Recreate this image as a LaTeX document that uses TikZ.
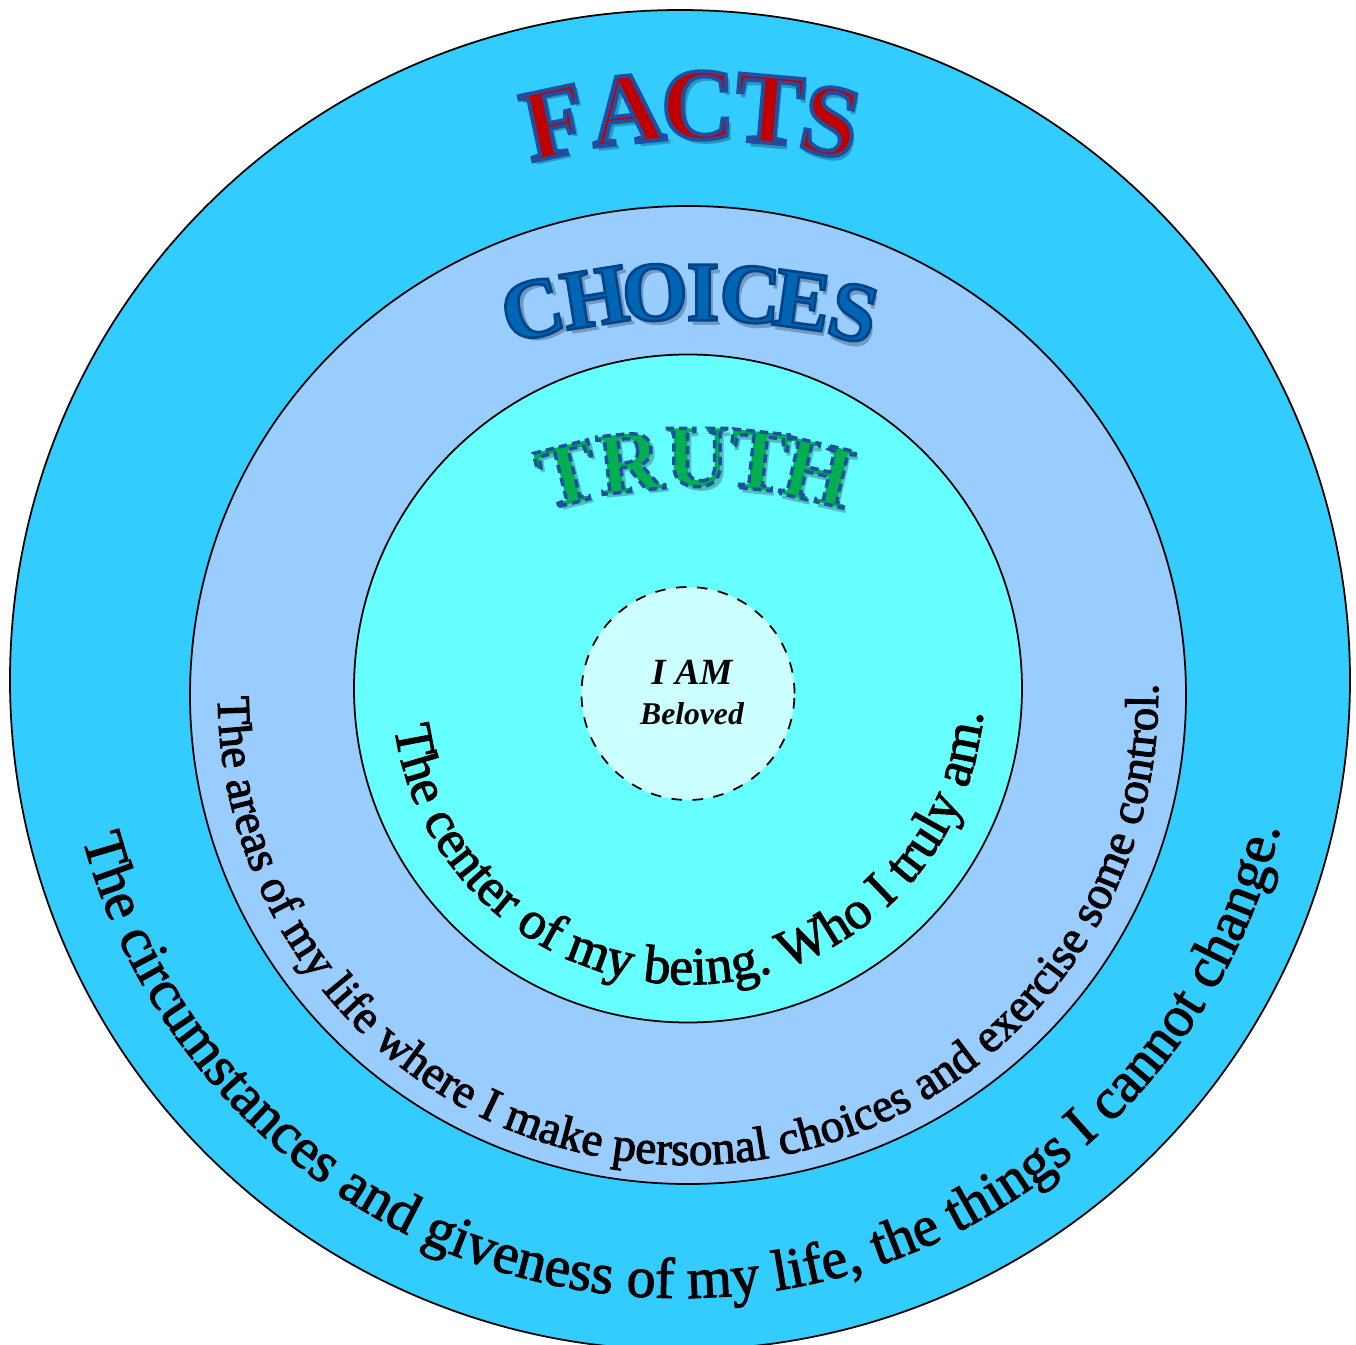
\documentclass[tikz,border=0pt]{standalone}
\usepackage{fontspec}
\setmainfont{Liberation Serif}
\usepackage{tikz}
\usetikzlibrary{decorations.text}

\definecolor{factsring}{RGB}{51,204,255}
\definecolor{choicesring}{RGB}{153,204,255}
\definecolor{truthring}{RGB}{102,255,255}
\definecolor{corering}{RGB}{204,255,255}
\definecolor{factsred}{RGB}{192,0,0}
\definecolor{choicesblue}{RGB}{0,102,179}
\definecolor{truthgreen}{RGB}{0,176,80}

\newcommand{\stroked}[2]{\special{pdf:literal direct #1 2 Tr}#2\special{pdf:literal direct 0 Tr 1 w [] 0 d}}
\newcommand{\headletter}[3]{\rlap{\kern1.1pt\raisebox{-1.4pt}{\color{#1}#3}}\stroked{#2}{#3}}
\newcommand{\inked}{\special{pdf:literal direct 0 0 0 RG 0.3 w 2 Tr}}

\begin{document}
\begin{tikzpicture}[x=0.01cm, y=0.01cm,
    ring/.style={draw=black, line width=0.5pt},
    letter/.style={inner sep=0pt, font=\fontsize{#1}{#1}\selectfont\bfseries},
    ringtext/.style={decorate, decoration={text along path, text align=center, text={#1}}}]
            \useasboundingbox (0,-1345) rectangle (1356,0);

            \draw[ring, fill=factsring] (680,-680) circle[radius=670];
            \draw[ring, fill=choicesring] (688,-695) ellipse[x radius=498, y radius=489];
            \draw[ring, fill=truthring] (688,-688.5) circle[radius=334];
            \draw[ring, dashed, fill=corering] (688,-693.5) circle[radius=106.5];

            \foreach \ch/\x/\y/\a [count=\i] in {F/555/125/12, A/627/112/6, C/698/108/0, T/769/112/-5, S/830/124/-12} {
                \node[letter=29, rotate=\a, text=factsred] (facts-\i) at (\x,-\y) {\headletter{factsring!75!black}{0.12 0.31 0.63 RG 1.1 w}{\ch}};
            }

            \foreach \ch/\x/\y/\a [count=\i] in {C/533/312/15, H/595/300/9, O/655/295/3, I/703/295/0, C/750/297/-4, E/802/303/-8, S/853/315/-14} {
                \node[letter=24, rotate=\a, text=choicesblue] (choices-\i) at (\x,-\y) {\headletter{choicesring!75!black}{0 0.27 0.55 RG 0.8 w}{\ch}};
            }

            \foreach \ch/\x/\y/\a [count=\i] in {T/568/477/14, R/630/465/6, U/697/460/0, T/758/463/-6, H/817/475/-13} {
                \node[letter=25, rotate=\a, text=truthgreen] (truth-\i) at (\x,-\y) {\headletter{truthring!75!black}{0.12 0.31 0.63 RG 1 w [2.4 1.4] 0 d}{\ch}};
            }

            \node[font=\fontsize{10.5}{12}\selectfont\bfseries\itshape] (iam) at (692,-672) {I AM};
            \node[font=\fontsize{9}{11}\selectfont\bfseries\itshape] (beloved) at (692,-714) {Beloved};

            \path[ringtext={|\fontsize{16.4}{19}\selectfont\inked|The circumstances and giveness of my life, the things I cannot change.}]
                (680,-680) ++(180.5:618) arc[start angle=180.5, end angle=360.5, radius=618];
            \path[ringtext={|\fontsize{13.4}{15}\selectfont\inked|The areas of my life where I make personal choices and exercise some control.}]
                (688,-695) ++(170.8:470) arc[start angle=170.8, end angle=370.8, radius=470];
            \path[ringtext={|\fontsize{15.2}{17}\selectfont\inked|The center of my being. Who I truly am.}]
                (688,-688.5) ++(171.5:296) arc[start angle=171.5, end angle=371.5, radius=296];
\end{tikzpicture}
\end{document}
